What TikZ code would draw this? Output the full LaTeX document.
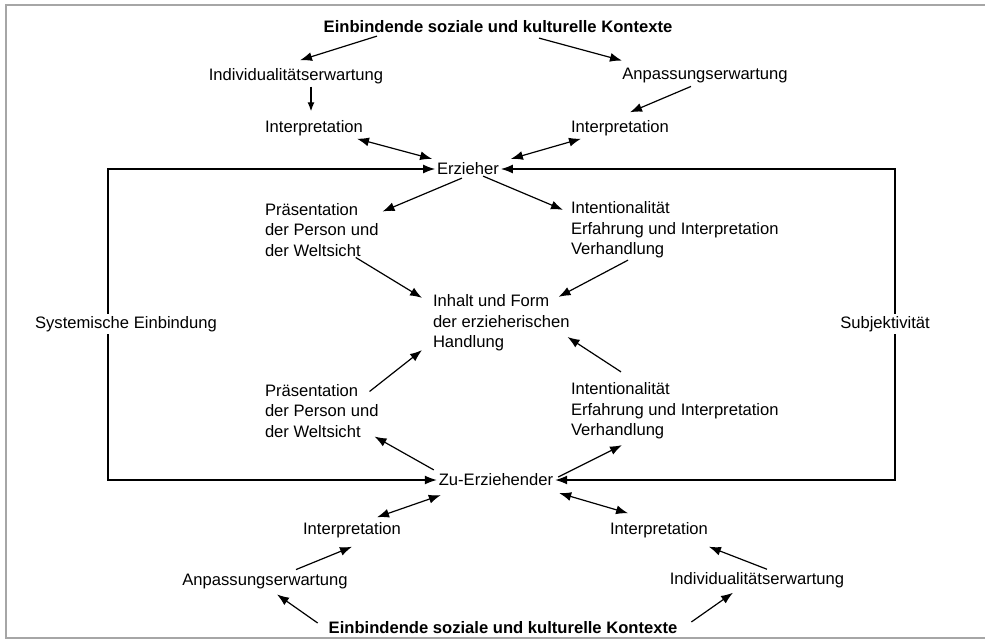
\documentclass[tikz,border=0pt]{standalone}
\usepackage{fontspec}
\setmainfont{Liberation Sans}
\usetikzlibrary{arrows.meta,calc}
\tikzset{
    textnode/.style = {
        align=center,
        font=\fontsize{8.3}{10.2}\selectfont,
        inner sep=1pt,
        outer sep=0mm
    },
    blocknode/.style = {
        textnode,
        align=left,
        anchor=west
    },
    titlenode/.style = {
        textnode,
        font=\fontsize{8.3}{10.2}\selectfont\bfseries
    },
    loopnode/.style = {
        textnode,
        fill=white
    },
    arr/.style = {
        line width=0.6pt,
        -{Latex[length=6pt,width=4.5pt]}
    },
    smallarr/.style = {
        line width=0.6pt,
        -{Latex[length=4.5pt,width=3.5pt]}
    },
    dblarr/.style = {
        line width=0.6pt,
        {Latex[length=6pt,width=4.5pt]}-{Latex[length=6pt,width=4.5pt]}
    },
    loopline/.style = {
        line width=0.6pt,
        -{Latex[length=6pt,width=4.5pt]}
    }
}

\begin{document}
\begin{tikzpicture}[x=0.5pt,y=-0.5pt]
    \useasboundingbox (0,0) rectangle (985,642);
    % frame of the scan
    \draw[gray!70, line width=0.8pt] (985,5) -- (6,5) -- (6,638) -- (985,638);

    % upper half
    \node [titlenode] (top) at (498,27) {Einbindende soziale und kulturelle Kontexte};
    \node [textnode] (indivA) at (296,76) {Individualitätserwartung};
    \node [textnode] (anpA) at (705,76) {Anpassungserwartung};
    \node [textnode] (interpAL) at (314,128) {Interpretation};
    \node [textnode] (interpAR) at (620,128) {Interpretation};
    \node [textnode] (erz) at (468,169) {Erzieher};
    \node [blocknode] (praesA) at (263,230) {Präsentation\\der Person und\\der Weltsicht};
    \node [blocknode] (intentA) at (569,230) {Intentionalität\\Erfahrung und Interpretation\\Verhandlung};

    % middle
    \node [blocknode] (inhalt) at (431,323) {Inhalt und Form\\der erzieherischen\\Handlung};

    % lower half
    \node [blocknode] (praesB) at (263,411) {Präsentation\\der Person und\\der Weltsicht};
    \node [blocknode] (intentB) at (569,411) {Intentionalität\\Erfahrung und Interpretation\\Verhandlung};
    \node [textnode] (zu) at (496,480) {Zu-Erziehender};
    \node [textnode] (interpBL) at (352,530) {Interpretation};
    \node [textnode] (interpBR) at (659,530) {Interpretation};
    \node [textnode] (anpB) at (265,582) {Anpassungserwartung};
    \node [textnode] (indivB) at (757,580) {Individualitätserwartung};
    \node [titlenode] (bot) at (503,628) {Einbindende soziale und kulturelle Kontexte};

    % side loops
    \coordinate (lloop) at (108,324);
    \coordinate (rloop) at (895,324);
    \draw [loopline] (lloop) |- (erz.west);
    \draw [loopline] (lloop) |- (zu.west);
    \draw [loopline] (rloop) |- (erz.east);
    \draw [loopline] (rloop) |- (zu.east);
    \node [loopnode] (sys) at (126,324) {Systemische Einbindung};
    \node [loopnode] (subj) at (885,324) {Subjektivität};

    % arrows, upper half
    \draw [arr] ($(top.south)+(-121,1)$) -- ($(indivA.north)+(4,-6)$);
    \draw [arr] ($(top.south)+(41,3)$) -- ($(anpA.north)+(-83,-6)$);
    \draw [smallarr] ($(indivA.south)+(15,1)$) -- ($(interpAL.north)+(-3,-7)$);
    \draw [arr] ($(anpA.south)+(-14,1)$) -- ($(interpAR.north)+(10,-6)$);
    \draw [dblarr] ($(interpAL.south)+(43,1)$) -- ($(erz.north west)+(-3,-2)$);
    \draw [dblarr] ($(interpAR.south)+(-39,1)$) -- ($(erz.north east)+(10,-2)$);
    \draw [arr] ($(erz.south)+(-6,1)$) -- ($(praesA.north east)+(2,10)$);
    \draw [arr] ($(erz.south)+(15,-1)$) -- ($(intentA.north west)+(-6,10)$);
    \draw [arr] ($(praesA.south)+(34,-1)$) -- ($(inhalt.north west)+(-9,5)$);
    \draw [arr] ($(intentA.south west)+(59,0)$) -- ($(inhalt.north east)+(-13,4)$);

    % arrows, lower half
    \draw [arr] ($(praesB.north east)+(-11,9)$) -- ($(inhalt.south west)+(-9,-3)$);
    \draw [arr] ($(intentB.north west)+(52,-9)$) -- ($(inhalt.east)+(-4,14)$);
    \draw [arr] ($(zu.north west)+(-3,-2)$) -- ($(praesB.south east)+(-6,-3)$);
    \draw [arr] ($(zu.east)+(3,-3)$) -- ($(intentB.south west)+(53,4)$);
    \draw [dblarr] ($(interpBL.north)+(25,-3)$) -- ($(zu.south west)+(4,7)$);
    \draw [dblarr] ($(zu.south east)+(4,5)$) -- ($(interpBR.north west)+(20,-7)$);
    \draw [arr] ($(anpB.north)+(31,-3)$) -- ($(interpBL.south)+(0,7)$);
    \draw [arr] ($(indivB.north)+(10,-1)$) -- ($(interpBR.south east)+(-1,7)$);
    \draw [arr] ($(bot.west)+(-9,-5)$) -- ($(anpB.south)+(12,3)$);
    \draw [arr] ($(bot.east)+(12,-6)$) -- ($(indivB.south)+(-24,3)$);
\end{tikzpicture}
\end{document}
